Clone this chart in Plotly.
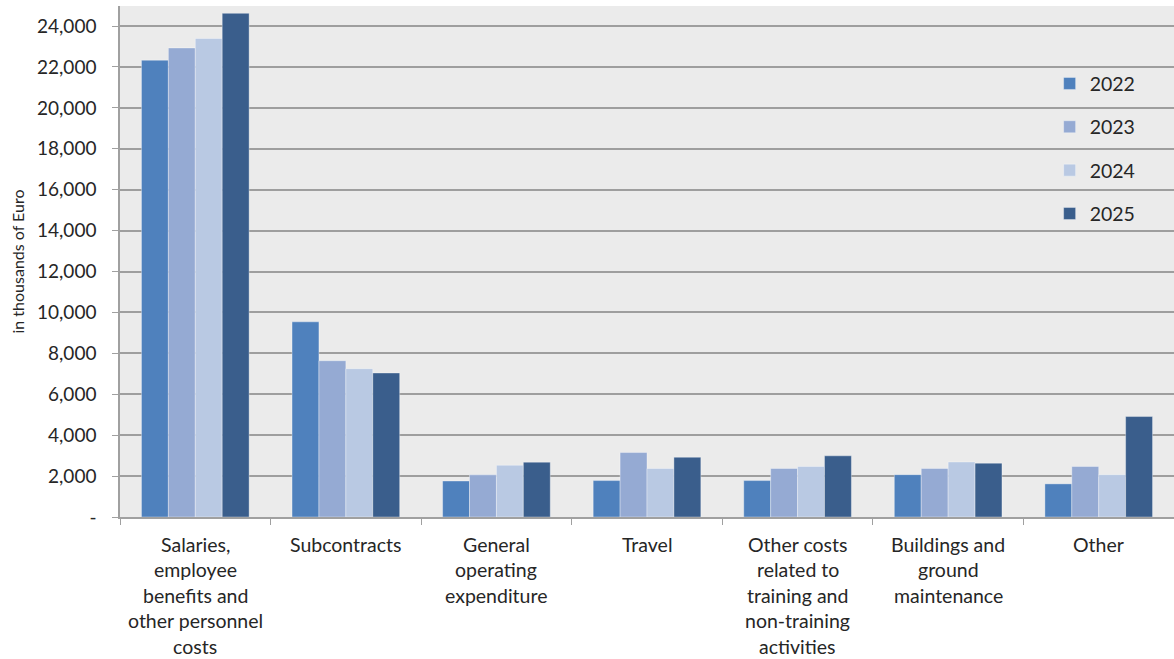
import plotly.graph_objects as go

categories = [
    "Salaries,<br>employee<br>benefits and<br>other personnel<br>costs",
    "Subcontracts",
    "General<br>operating<br>expenditure",
    "Travel",
    "Other costs<br>related to<br>training and<br>non-training<br>activities",
    "Buildings and<br>ground<br>maintenance",
    "Other",
]
years = ["2022", "2023", "2024", "2025"]
v2022 = [22330, 9540, 1760, 1780, 1780, 2070, 1620]
v2023 = [22930, 7640, 2060, 3150, 2370, 2370, 2470]
v2024 = [23390, 7250, 2530, 2370, 2470, 2690, 2070]
v2025 = [24620, 7040, 2680, 2920, 2990, 2630, 4910]
series = [v2022, v2023, v2024, v2025]
colors = ["#4F81BD", "#95AAD3", "#B9C9E3", "#3A5E8C"]

ytickvals = [0, 2000, 4000, 6000, 8000, 10000, 12000, 14000, 16000, 18000, 20000, 22000, 24000]
yticktext = ["-", "2,000", "4,000", "6,000", "8,000", "10,000", "12,000", "14,000",
             "16,000", "18,000", "20,000", "22,000", "24,000"]

fig = go.Figure()
for yr, vals, col in zip(years, series, colors):
    fig.add_trace(go.Bar(
        x=categories, y=vals, name=yr, legendgroup=yr,
        marker=dict(color=col, line=dict(color="rgba(255,255,255,0.35)", width=1)),
    ))

font_family = "Lato, 'Open Sans', sans-serif"
txt_col = "#262626"

# category labels, one annotation per line for Excel-like line spacing
for cat in categories:
    for i, line in enumerate(cat.split("<br>")):
        fig.add_annotation(
            x=cat, xref="x", y=0, yref="paper", yanchor="middle",
            text=line, showarrow=False, yshift=-(27 + 25.5 * i),
            font=dict(family=font_family, size=19.5, color=txt_col),
        )

fig.update_layout(
    width=1174, height=659,
    barmode="group", bargap=0.285, bargroupgap=0,
    paper_bgcolor="white", plot_bgcolor="#EBEBEB",
    margin=dict(l=120, r=0, t=6, b=142),
    font=dict(family=font_family, color=txt_col),
    showlegend=True,
    legend=dict(
        x=0.882, y=0.886, xanchor="left", yanchor="top",
        bgcolor="rgba(0,0,0,0)", font=dict(size=19.5, color=txt_col),
        tracegroupgap=15, itemwidth=30,
    ),
    xaxis=dict(
        tickson="boundaries", ticks="outside", ticklen=6, tickcolor="#A0A0A0",
        showline=True, linecolor="#A0A0A0", linewidth=1.5,
        showticklabels=False, showgrid=False,
    ),
    yaxis=dict(
        range=[0, 24980], tickvals=ytickvals, ticktext=yticktext,
        ticks="outside", ticklen=6, tickcolor="#A0A0A0",
        showline=True, linecolor="#A0A0A0", linewidth=1.5,
        gridcolor="#9E9E9E", gridwidth=1.5, zeroline=False,
        tickfont=dict(size=19, color=txt_col), ticklabelstandoff=12,
        title=dict(text="in thousands of Euro", font=dict(size=16, color=txt_col), standoff=8),
    ),
)

fig.write_html("out.html", config={"displayModeBar": False},
               post_script="document.body.style.margin='0';")
